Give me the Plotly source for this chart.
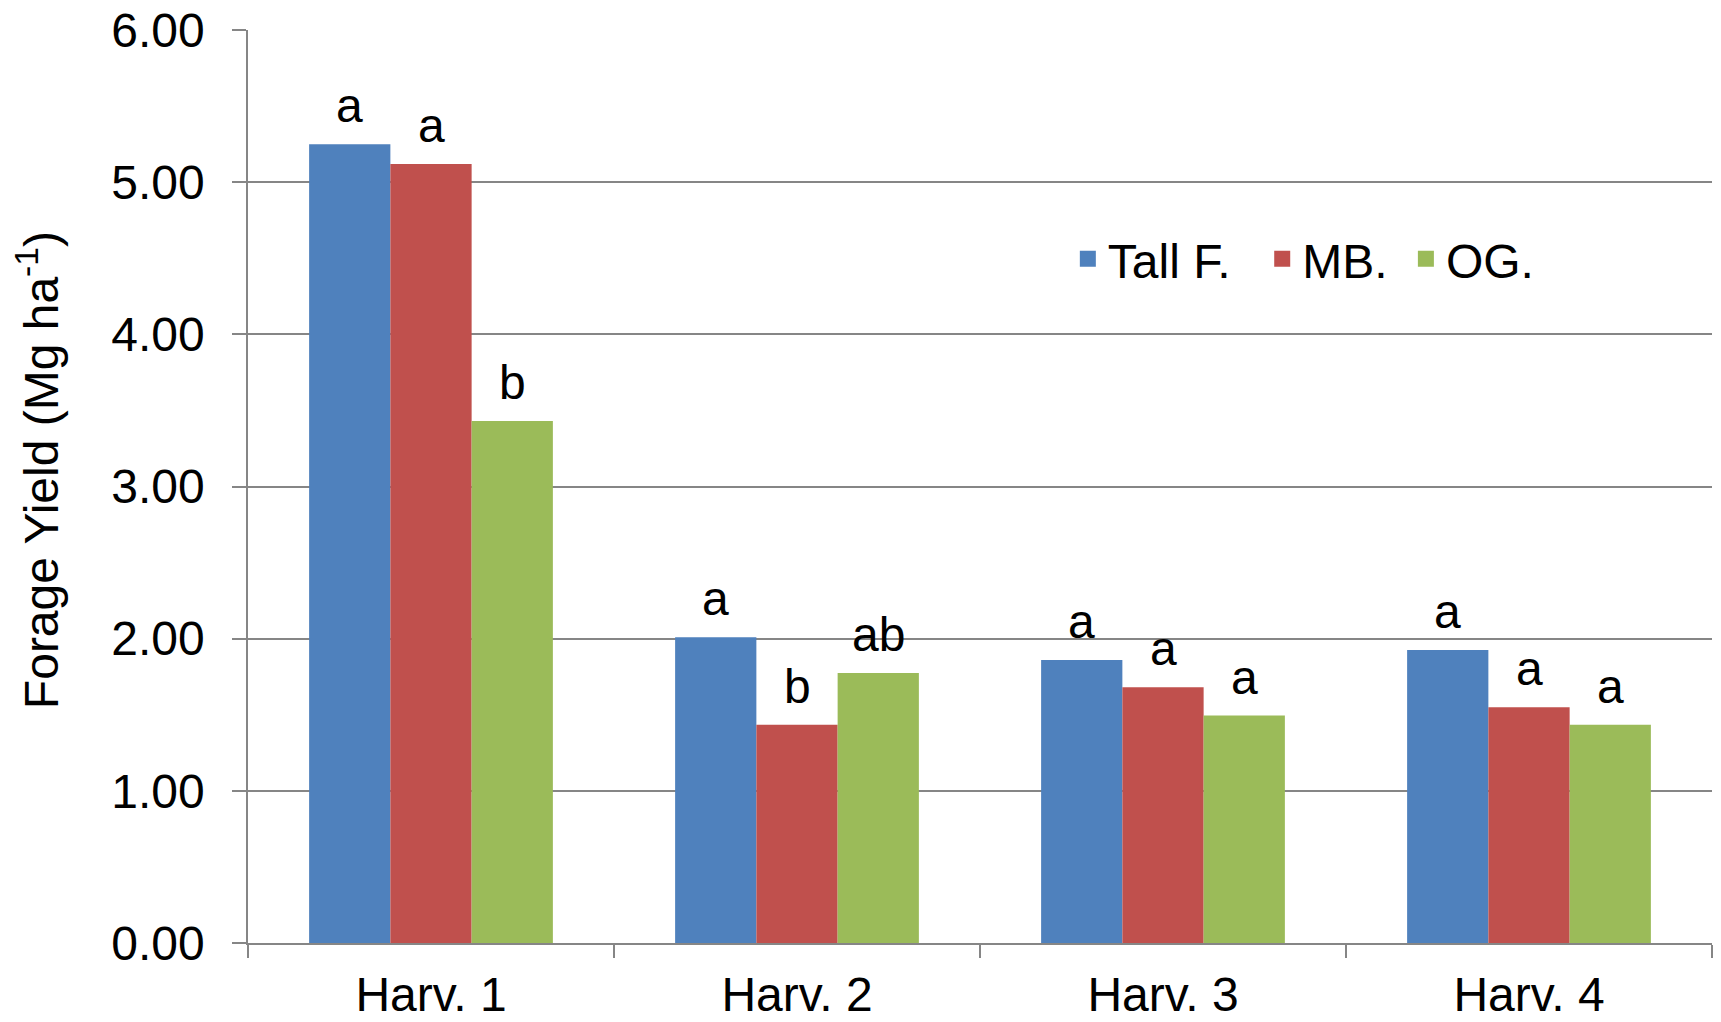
import plotly.graph_objects as go

# ---- data ----
categories = ["Harv. 1", "Harv. 2", "Harv. 3", "Harv. 4"]
series_names = ["Tall F.", "MB.", "OG."]
tall_f = [5.25, 2.01, 1.86, 1.925]
mb = [5.12, 1.435, 1.68, 1.55]
og = [3.43, 1.775, 1.495, 1.435]
tall_f_letters = ["a", "a", "a", "a"]
mb_letters = ["a", "b", "a", "a"]
og_letters = ["b", "ab", "a", "a"]
y_tick_values = [0, 1, 2, 3, 4, 5, 6]
y_tick_labels = ["0.00", "1.00", "2.00", "3.00", "4.00", "5.00", "6.00"]
y_title = "Forage Yield (Mg ha<sup>-1</sup>)"

colors = ["#4F81BD", "#C0504D", "#9BBB59"]
FONT = "Arial, 'Liberation Sans', sans-serif"
FS = 48
GRID = "#868686"
BARGAP = 0.334
NB = "\u00a0"
legend_pad = [NB * 2, NB, ""]

series_values = [tall_f, mb, og]
series_letters = [tall_f_letters, mb_letters, og_letters]

fig = go.Figure()
for name, vals, col in zip(series_names, series_values, colors):
    fig.add_trace(go.Bar(
        x=categories, y=vals, name=name,
        marker=dict(color=col, line=dict(width=0)),
        legendgroup=name, showlegend=False,
    ))
# legend proxies (larger square symbols)
for name, col, pad in zip(series_names, colors, legend_pad):
    fig.add_trace(go.Scatter(
        x=[None], y=[None], mode="markers", name=name + pad,
        marker=dict(symbol="square", size=16, color=col),
        legendgroup=name, showlegend=True,
    ))

# significance letters above bars
bw = (1 - BARGAP) / len(series_names)
annotations = []
for k, (vals, letters) in enumerate(zip(series_values, series_letters)):
    for i, (v, t) in enumerate(zip(vals, letters)):
        annotations.append(dict(
            x=i + (k - (len(series_names) - 1) / 2) * bw, y=v,
            xref="x", yref="y", text=t, showarrow=False,
            yanchor="bottom", xanchor="center", yshift=10,
            font=dict(family=FONT, size=FS, color="black"),
        ))

# y-axis title (placed slightly above the plot centre as in the original)
annotations.append(dict(
    x=-0.1434, y=0.518, xref="paper", yref="paper", text=y_title,
    textangle=-90, showarrow=False, xanchor="center", yanchor="middle",
    font=dict(family=FONT, size=FS, color="black"),
))

fig.update_layout(
    width=1721, height=1022,
    margin=dict(l=248, r=9, t=30, b=79),
    paper_bgcolor="white", plot_bgcolor="white",
    barmode="group", bargap=BARGAP, bargroupgap=0,
    font=dict(family=FONT, size=FS, color="black"),
    legend=dict(orientation="h", x=0.56, y=0.749, xanchor="left", yanchor="middle",
                bgcolor="rgba(0,0,0,0)", font=dict(size=FS)),
    annotations=annotations,
    xaxis=dict(
        type="category", showgrid=False, showline=True, linecolor=GRID, linewidth=1.5,
        ticks="outside", tickson="boundaries", ticklen=13, tickcolor=GRID, tickwidth=1.5,
        tickfont=dict(size=FS), ticklabelstandoff=9, automargin=False,
    ),
    yaxis=dict(
        range=[0, 6], tickvals=y_tick_values, ticktext=y_tick_labels,
        showgrid=True, gridcolor=GRID, gridwidth=1.5,
        showline=True, linecolor=GRID, linewidth=1.5,
        ticks="outside", ticklen=14, tickcolor=GRID, tickwidth=1.5,
        tickfont=dict(size=FS), ticklabelstandoff=18, automargin=False,
        zeroline=False,
    ),
)

fig.write_html("out.html", config={"displayModeBar": False},
               post_script="document.body.style.margin='0';")
